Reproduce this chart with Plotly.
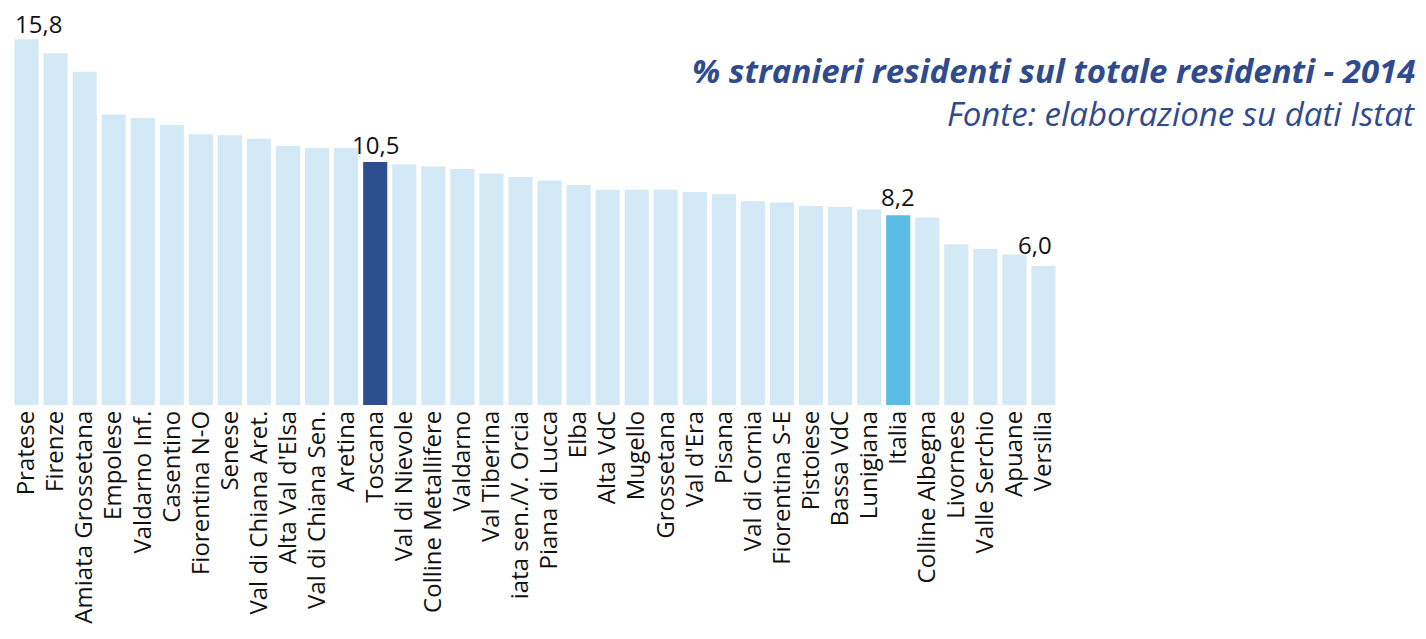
import plotly.graph_objects as go

categories = ["Pratese", "Firenze", "Amiata Grossetana", "Empolese", "Valdarno Inf.", "Casentino",
              "Fiorentina N-O", "Senese", "Val di Chiana Aret.", "Alta Val d'Elsa", "Val di Chiana Sen.",
              "Aretina", "Toscana", "Val di Nievole", "Colline Metallifere", "Valdarno", "Val Tiberina",
              "Amiata sen./V. Orcia", "Piana di Lucca", "Elba", "Alta VdC", "Mugello", "Grossetana",
              "Val d'Era", "Pisana", "Val di Cornia", "Fiorentina S-E", "Pistoiese", "Bassa VdC",
              "Lunigiana", "Italia", "Colline Albegna", "Livornese", "Valle Serchio", "Apuane", "Versilia"]
values = [15.8, 15.2, 14.4, 12.55, 12.4, 12.1, 11.7, 11.65, 11.5, 11.2, 11.1, 11.1, 10.5, 10.4, 10.3,
          10.2, 10.0, 9.85, 9.7, 9.5, 9.3, 9.3, 9.3, 9.2, 9.1, 8.8, 8.75, 8.6, 8.55, 8.45, 8.2, 8.1,
          6.95, 6.75, 6.5, 6.0]
labelled = {"Pratese": "15,8", "Toscana": "10,5", "Italia": "8,2", "Versilia": "6,0"}
title = "% stranieri residenti sul totale residenti - 2014"
subtitle = "Fonte: elaborazione su dati Istat"

# the reference clips the start of this long label
tick_text = [c if c != "Amiata sen./V. Orcia" else "iata sen./V. Orcia" for c in categories]

def color_for(c):
    if c == "Toscana":
        return "#2E4F8F"
    if c == "Italia":
        return "#5BBDE3"
    return "#D3E9F5"

fig = go.Figure(go.Bar(
    x=categories, y=values,
    marker=dict(color=[color_for(c) for c in categories], line=dict(width=0)),
    hoverinfo="x+y",
))

shifts = {"Pratese": 12, "Toscana": 0, "Italia": 0, "Versilia": -8}
yshifts = {"Pratese": -2, "Toscana": 0, "Italia": 1, "Versilia": 4}
for c, v in zip(categories, values):
    if c in labelled:
        fig.add_annotation(x=c, y=v, text=labelled[c], showarrow=False, yanchor="bottom",
                           xanchor="center", xshift=shifts[c], yshift=yshifts[c], borderpad=0,
                           font=dict(family="Open Sans", size=24, color="#111111"))

fig.add_annotation(xref="paper", yref="paper", x=1.3432, y=0.879, xanchor="right", yanchor="middle",
                   text="<b><i>" + title + "</i></b>", showarrow=False,
                   font=dict(family="Open Sans", size=33, color="#2F4B8E"))
fig.add_annotation(xref="paper", yref="paper", x=1.3432, y=0.766, xanchor="right", yanchor="middle",
                   text="<i>" + subtitle + "</i>", showarrow=False,
                   font=dict(family="Open Sans", size=33, color="#2F4B8E"))

fig.update_layout(
    width=1410, height=623,
    margin=dict(l=4, r=360, t=16, b=226),
    paper_bgcolor="white", plot_bgcolor="white",
    bargap=0.17,
    showlegend=False,
    xaxis=dict(tickmode="array", tickvals=categories, ticktext=tick_text, tickangle=-90,
               tickfont=dict(family="Open Sans", size=24, color="#111111"),
               showgrid=False, showline=False, ticks="", zeroline=False, fixedrange=True,
               automargin=False),
    yaxis=dict(range=[0, 16.46], visible=False, showgrid=False, zeroline=False, fixedrange=True),
)

fig.write_html("out.html")
